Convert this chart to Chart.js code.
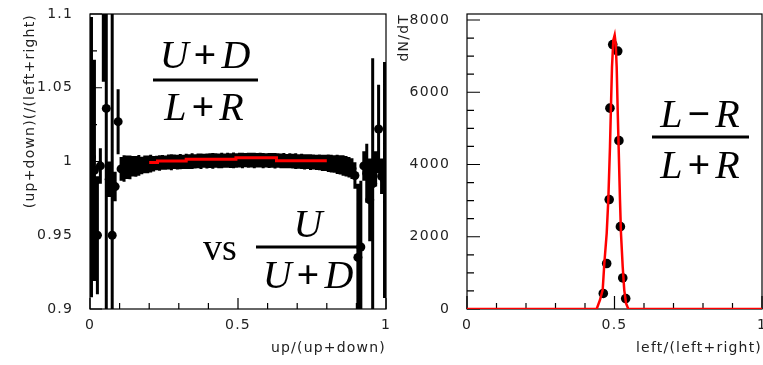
<!DOCTYPE html>
<html><head><meta charset="utf-8">
<script src="https://cdn.jsdelivr.net/npm/chart.js@4.4.0/dist/chart.umd.min.js"></script>
<style>
html,body{margin:0;padding:0;background:#fff;width:763px;height:365px;overflow:hidden}
canvas{position:absolute;top:0}
#c1{left:0}
#c2{left:390px}
</style></head><body>
<canvas id="c1" width="390" height="365"></canvas>
<canvas id="c2" width="373" height="365"></canvas>
<script>
// ---------- left panel: profile (up+down)/(left+right) vs up/(up+down) ----------
const profileBins = 100; // bins on [0,1]
const profileValues = [
  1.003, 0.994, 0.950, 0.997, 1.130, 1.036, 0.988, 0.950, 0.983, 1.027,
  0.995,
  0.9953, 0.9961, 0.9960, 0.9968, 0.9967, 0.9974, 0.9973, 0.9980, 0.9981, 0.9986,
  0.9985, 0.9990, 0.9990, 0.9994, 0.9992, 0.9996, 0.9995, 0.9998, 0.9996, 0.9999,
  0.9998, 1.0001, 1.0000, 1.0003, 1.0001, 1.0004, 1.0002, 1.0005, 1.0003, 1.0006,
  1.0004, 1.0007, 1.0005, 1.0007, 1.0006, 1.0009, 1.0006, 1.0008, 1.0007, 1.0009,
  1.0007, 1.0009, 1.0008, 1.0009, 1.0007, 1.0008, 1.0009, 1.0006, 1.0008, 1.0007,
  1.0008, 1.0005, 1.0007, 1.0004, 1.0006, 1.0003, 1.0005, 1.0002, 1.0003, 1.0000,
  1.0001, 0.9998, 0.9999, 0.9996, 0.9997, 0.9994, 0.9994, 0.9991, 0.9990, 0.9988,
  0.9986, 0.9983, 0.9981, 0.9977, 0.9973, 0.9968, 0.9961,
  0.9952, 0.9905, 0.935, 0.942, 0.997, 0.992, 0.974, 0.985, 0.995, 1.022,
  0.990, 0.9875
];
const profileErrors = [
  0.095, 0.075, 0.040, 0.012, 0.076, 0.160, 0.012, 0.180, 0.010, 0.022,
  0.008,
  0.009, 0.008, 0.008, 0.007, 0.007, 0.007, 0.006, 0.006, 0.006, 0.006,
  0.0052, 0.0049, 0.0053, 0.0050, 0.0048, 0.0051, 0.0054, 0.0049, 0.0050, 0.0052,
  0.0048, 0.0051, 0.0050, 0.0053, 0.0049, 0.0050, 0.0052, 0.0048, 0.0051, 0.0050,
  0.0053, 0.0049, 0.0050, 0.0052, 0.0048, 0.0051, 0.0050, 0.0053, 0.0049, 0.0050,
  0.0052, 0.0048, 0.0051, 0.0050, 0.0053, 0.0049, 0.0050, 0.0052, 0.0048, 0.0051,
  0.0050, 0.0053, 0.0049, 0.0050, 0.0052, 0.0048, 0.0051, 0.0050, 0.0053, 0.0049,
  0.0051, 0.0052, 0.0050, 0.0053, 0.0051, 0.0052, 0.0054,
  0.0055, 0.0055, 0.006, 0.006, 0.006, 0.0065, 0.0065, 0.007, 0.007, 0.007,
  0.007, 0.009, 0.050, 0.045, 0.010, 0.020, 0.028, 0.085, 0.012, 0.030,
  0.012, 0.080
];
const profileX = profileValues.map((_, i) => (i + 0.5) / profileBins); // bin centres
const fitEdges  = [0.2, 0.228, 0.325, 0.493, 0.63, 0.8];
const fitValues = [0.9993, 1.0003, 1.0015, 1.0026, 1.0005];

const leftXTicks = [0, 0.5, 1];
const leftXMinor = [0.1, 0.2, 0.3, 0.4, 0.6, 0.7, 0.8, 0.9];
const leftYTicks = [0.9, 0.95, 1, 1.05, 1.1];
const leftYMinor = [0.925, 0.975, 1.025, 1.075];

// ---------- right panel: dN/dT vs left/(left+right) ----------
const curveX = [0, 0.4396, 0.4508, 0.460, 0.4655, 0.4735, 0.479, 0.4847, 0.488, 0.4915, 0.496,
                0.5006, 0.504, 0.5074, 0.5108, 0.514, 0.5186, 0.522, 0.5278, 0.533, 0.539, 0.5468, 1];
const curveY = [0, 0, 250, 530, 1260, 2090, 3020, 4490, 5600, 6700, 7440,
                7580, 7350, 6700, 5500, 4490, 3020, 2090, 1170, 530, 160, 0, 0];
const pointX = [0.462, 0.4735, 0.482, 0.4845, 0.494, 0.511, 0.515, 0.520, 0.528, 0.538];
const pointY = [430, 1260, 3030, 5560, 7320, 7140, 4660, 2280, 860, 290];

const rightXTicks = [0, 0.5, 1];
const rightXMinor = [0.1, 0.2, 0.3, 0.4, 0.6, 0.7, 0.8, 0.9];
const rightYTicks = [0, 2000, 4000, 6000, 8000];
const rightYMinor = [500, 1000, 1500, 2500, 3000, 3500, 4500, 5000, 5500, 6500, 7000, 7500];

// ---------- styling helpers ----------
const TXT = '#222';
const tickFont = {family: 'DejaVu Sans', size: 14};

function drawMath(ctx, parts, cx, base, size, gap) {
  const fonts = {
    1: 'italic ' + size + 'px "Liberation Serif"',
    0: 'bold ' + size + 'px "Liberation Serif"'
  };
  const w = parts.map(p => { ctx.font = fonts[p[1]]; return ctx.measureText(p[0]).width; });
  const total = w.reduce((a, b) => a + b, 0) + gap * (parts.length - 1);
  let x = cx - total / 2;
  ctx.textAlign = 'left';
  ctx.textBaseline = 'alphabetic';
  parts.forEach((p, i) => { ctx.font = fonts[p[1]]; ctx.fillText(p[0], x, base); x += w[i] + gap; });
}

function framePlugin(o) {
  return {
    id: 'rootframe',
    beforeDraw(chart) { chart.ctx.letterSpacing = '1.2px'; },
    beforeDatasetsDraw(chart) {
      const {ctx, chartArea: a, scales: {x, y}} = chart;
      ctx.save();
      ctx.strokeStyle = '#000';
      ctx.lineWidth = 1.2;
      ctx.strokeRect(a.left, a.top, a.right - a.left, a.bottom - a.top);
      ctx.beginPath();
      o.yMajor.forEach(v => { const p = y.getPixelForValue(v); ctx.moveTo(a.left, p); ctx.lineTo(a.left + o.yMajLen, p); });
      o.yMinor.forEach(v => { const p = y.getPixelForValue(v); ctx.moveTo(a.left, p); ctx.lineTo(a.left + o.yMinLen, p); });
      o.xMajor.forEach(v => { const p = x.getPixelForValue(v); ctx.moveTo(p, a.bottom); ctx.lineTo(p, a.bottom - o.xMajLen); });
      o.xMinor.forEach(v => { const p = x.getPixelForValue(v); ctx.moveTo(p, a.bottom); ctx.lineTo(p, a.bottom - o.xMinLen); });
      ctx.stroke();
      if (o.errors) {
        ctx.beginPath();
        ctx.rect(a.left, a.top, a.right - a.left, a.bottom - a.top);
        ctx.clip();
        ctx.lineWidth = 3;
        ctx.beginPath();
        o.errors.x.forEach((xv, i) => {
          const px = x.getPixelForValue(xv);
          ctx.moveTo(px, y.getPixelForValue(o.errors.y[i] - o.errors.e[i]));
          ctx.lineTo(px, y.getPixelForValue(o.errors.y[i] + o.errors.e[i]));
        });
        ctx.stroke();
      }
      ctx.restore();
    },
    afterDraw(chart) {
      const ctx = chart.ctx;
      ctx.save();
      ctx.letterSpacing = '0px';
      ctx.fillStyle = '#000';
      (o.maths || []).forEach(m => {
        if (m.parts) drawMath(ctx, m.parts, m.cx, m.base, m.size, m.gap);
        if (m.bar) ctx.fillRect(m.bar[0], m.bar[2] - 1.5, m.bar[1] - m.bar[0], 3);
        if (m.plain) {
          ctx.font = m.size + 'px "Liberation Serif"';
          ctx.textAlign = 'left'; ctx.textBaseline = 'alphabetic';
          ctx.fillText(m.plain, m.x, m.base);
        }
      });
      ctx.restore();
    }
  };
}

function axisX(ticks, title) {
  return {
    type: 'linear', min: 0, max: 1,
    afterFit(s) { s.height = 56; s.paddingLeft = 0; s.paddingRight = 0; },
    afterBuildTicks(s) { s.ticks = ticks.map(v => ({value: v})); },
    grid: {display: false, drawTicks: false},
    border: {display: false},
    ticks: {font: tickFont, color: TXT, padding: 8, maxRotation: 0, autoSkip: false,
            callback: v => String(v)},
    title: {display: true, text: title, align: 'end', font: tickFont, color: TXT,
            padding: {top: 0, bottom: 8.6}}
  };
}
function axisY(min, max, ticks, title, width, titlePad) {
  return {
    type: 'linear', min: min, max: max,
    afterFit(s) { s.width = width; s.paddingTop = 0; s.paddingBottom = 0; },
    afterBuildTicks(s) { s.ticks = ticks.map(v => ({value: v})); },
    grid: {display: false, drawTicks: false},
    border: {display: false},
    ticks: {font: tickFont, color: TXT, padding: 17, autoSkip: false,
            callback: v => String(parseFloat(Number(v).toFixed(3)))},
    title: {display: true, text: title, align: 'end', font: tickFont, color: TXT,
            padding: {top: titlePad, bottom: 0}}
  };
}

const common = {
  responsive: false, animation: false, devicePixelRatio: 1,
  plugins: {legend: {display: false}, tooltip: {enabled: false}}
};

// ---------- left chart ----------
new Chart(document.getElementById('c1'), {
  type: 'scatter',
  data: {datasets: [
    {data: fitEdges.map((x, i) => ({x: x, y: fitValues[Math.min(i, fitValues.length - 1)]})),
     showLine: true, stepped: 'before', borderColor: '#ff0000', borderWidth: 3, pointRadius: 0},
    {data: profileX.map((x, i) => ({x: x, y: profileValues[i]})),
     showLine: false, pointRadius: 4.5, pointBackgroundColor: '#000', pointBorderColor: '#000', pointBorderWidth: 0}
  ]},
  options: Object.assign({}, common, {
    layout: {autoPadding: false, padding: {top: 14, right: 4, left: 0, bottom: 0}},
    scales: {
      x: axisX(leftXTicks, 'up/(up+down)'),
      y: axisY(0.9, 1.1, leftYTicks, '(up+down)(/(left+right)', 90, 21.6)
    }
  }),
  plugins: [framePlugin({
    yMajor: leftYTicks, yMinor: leftYMinor, yMajLen: 12, yMinLen: 7,
    xMajor: leftXTicks, xMinor: leftXMinor, xMajLen: 11, xMinLen: 6,
    errors: {x: profileX, y: profileValues, e: profileErrors},
    maths: [
      {parts: [['U', 1], ['+', 0], ['D', 1]], cx: 205, base: 68, size: 40, gap: 5},
      {bar: [153, 258, 80]},
      {parts: [['L', 1], ['+', 0], ['R', 1]], cx: 204, base: 120, size: 40, gap: 5},
      {plain: 'vs', x: 203, base: 260, size: 38},
      {parts: [['U', 1]], cx: 308, base: 237, size: 40, gap: 0},
      {bar: [256, 363, 247]},
      {parts: [['U', 1], ['+', 0], ['D', 1]], cx: 308, base: 288, size: 40, gap: 5}
    ]
  })]
});

// ---------- right chart ----------
new Chart(document.getElementById('c2'), {
  type: 'scatter',
  data: {datasets: [
    {data: curveX.map((x, i) => ({x: x, y: curveY[i]})),
     showLine: true, borderColor: '#ff0000', borderWidth: 2.5, pointRadius: 0, tension: 0},
    {data: pointX.map((x, i) => ({x: x, y: pointY[i]})),
     showLine: false, pointRadius: 4.8, pointBackgroundColor: '#000', pointBorderColor: '#000', pointBorderWidth: 0}
  ]},
  options: Object.assign({}, common, {
    layout: {autoPadding: false, padding: {top: 14, right: 1, left: 0, bottom: 0}},
    scales: {
      x: axisX(rightXTicks, 'left/(left+right)'),
      y: axisY(0, 8166, rightYTicks, 'dN/dT', 77, 5.6)
    }
  }),
  plugins: [framePlugin({
    yMajor: rightYTicks, yMinor: rightYMinor, yMajLen: 13, yMinLen: 7,
    xMajor: rightXTicks, xMinor: rightXMinor, xMajLen: 13, xMinLen: 6,
    maths: [
      {parts: [['L', 1], ['\u2212', 0], ['R', 1]], cx: 310, base: 127, size: 40, gap: 5},
      {bar: [262, 359, 137]},
      {parts: [['L', 1], ['+', 0], ['R', 1]], cx: 310, base: 178, size: 40, gap: 5}
    ]
  })]
});
</script>
</body></html>
